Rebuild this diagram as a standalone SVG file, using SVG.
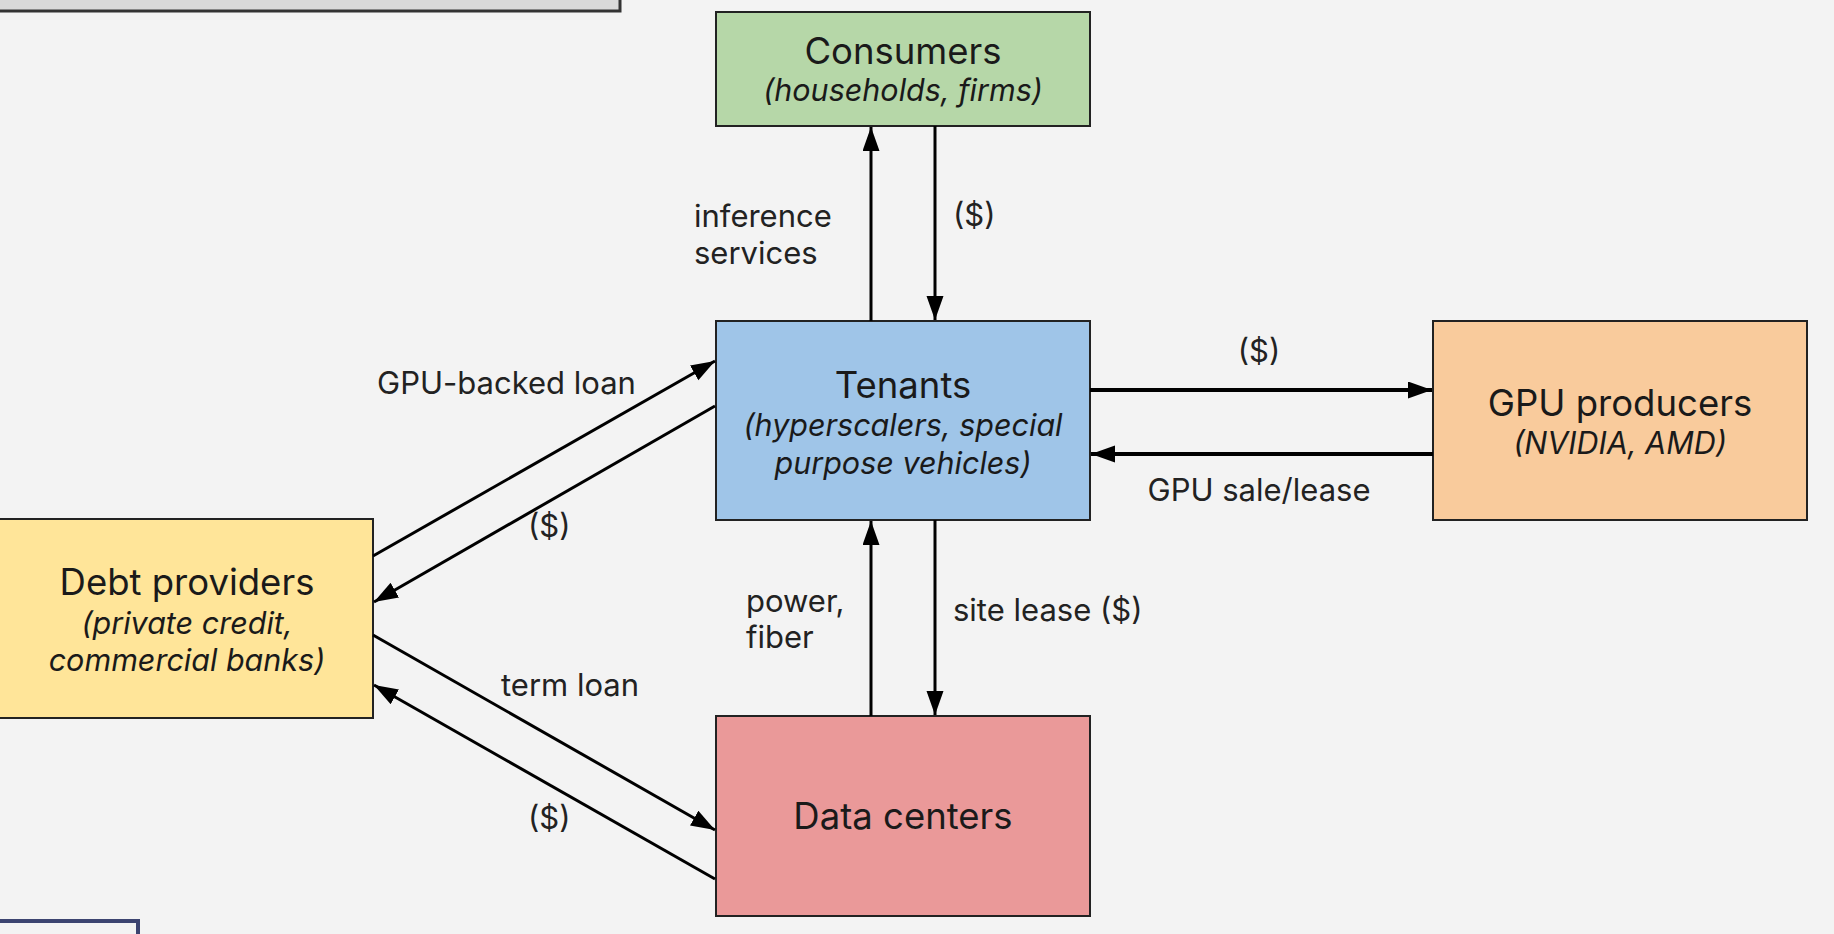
<svg xmlns="http://www.w3.org/2000/svg" width="1834" height="934" viewBox="0 0 1834 934">
<defs>
<marker id="ah" markerUnits="userSpaceOnUse" markerWidth="26" markerHeight="18" refX="24" refY="8.5" orient="auto">
<path d="M0,0 L24,8.5 L0,17 z" fill="#000"/>
</marker>
<style>
.box{stroke:#222;stroke-width:2}
.t{font-family:Inter,"Liberation Sans",sans-serif;font-size:36.5px;fill:#1a1a1a;text-anchor:middle}
.s{font-family:Inter,"Liberation Sans",sans-serif;font-size:30.5px;font-style:italic;fill:#1a1a1a;text-anchor:middle}
.l{font-family:Inter,"Liberation Sans",sans-serif;font-size:31px;fill:#222}
.c{stroke:#000;stroke-width:3;fill:none;marker-end:url(#ah)}
.h{stroke-width:4}
</style>
</defs>
<rect width="1834" height="934" fill="#f3f3f3"/>
<rect x="-3" y="-60" width="623" height="71" fill="#d9d9d9" stroke="#333" stroke-width="3"/>
<rect x="-3" y="921" width="141" height="60" fill="#f3f3f3" stroke="#3c4470" stroke-width="4"/>
<g id="consumers">
<rect class="box" x="716" y="12" width="374" height="114" fill="#b6d7a8"/>
<text class="t" x="903" y="64">Consumers</text>
<text class="s" x="903" y="101">(households, firms)</text>
</g>
<g id="tenants">
<rect class="box" x="716" y="321" width="374" height="199" fill="#9fc5e8"/>
<text class="t" x="903" y="398">Tenants</text>
<text class="s" x="903" y="436">(hyperscalers, special</text>
<text class="s" x="903" y="474">purpose vehicles)</text>
</g>
<g id="gpu">
<rect class="box" x="1433" y="321" width="374" height="199" fill="#f9cb9c"/>
<text class="t" x="1620" y="416">GPU producers</text>
<text class="s" x="1620" y="454">(NVIDIA, AMD)</text>
</g>
<g id="debt">
<rect class="box" x="-2" y="519" width="375" height="199" fill="#ffe599"/>
<text class="t" x="187" y="595">Debt providers</text>
<text class="s" x="187" y="634">(private credit,</text>
<text class="s" x="187" y="671">commercial banks)</text>
</g>
<g id="datacenters">
<rect class="box" x="716" y="716" width="374" height="200" fill="#ea9999"/>
<text class="t" x="903" y="829">Data centers</text>
</g>
<g id="connectors">
<line class="c" x1="871" y1="321" x2="871" y2="127"/>
<line class="c" x1="935" y1="126" x2="935" y2="320"/>
<line class="c h" x1="1090" y1="390" x2="1432" y2="390"/>
<line class="c h" x1="1433" y1="454" x2="1091" y2="454"/>
<line class="c" x1="871" y1="716" x2="871" y2="521"/>
<line class="c" x1="935" y1="520" x2="935" y2="715"/>
<line class="c" x1="373" y1="556" x2="715" y2="361"/>
<line class="c" x1="715" y1="406" x2="374" y2="602"/>
<line class="c" x1="373" y1="635" x2="715" y2="830"/>
<line class="c" x1="715" y1="879" x2="374" y2="685"/>
</g>
<g id="labels">
<text class="l" x="694" y="227">inference</text>
<text class="l" x="694" y="264">services</text>
<text class="l" x="953" y="226">($)</text>
<text class="l" x="1259" y="362" text-anchor="middle">($)</text>
<text class="l" x="1259" y="501" text-anchor="middle">GPU sale/lease</text>
<text class="l" x="953" y="621">site lease ($)</text>
<text class="l" x="746" y="612">power,</text>
<text class="l" x="746" y="648">fiber</text>
<text class="l" x="501" y="696">term loan</text>
<text class="l" x="528" y="537">($)</text>
<text class="l" x="528" y="829">($)</text>
<text class="l" x="377" y="394">GPU-backed loan</text>
</g>
</svg>
